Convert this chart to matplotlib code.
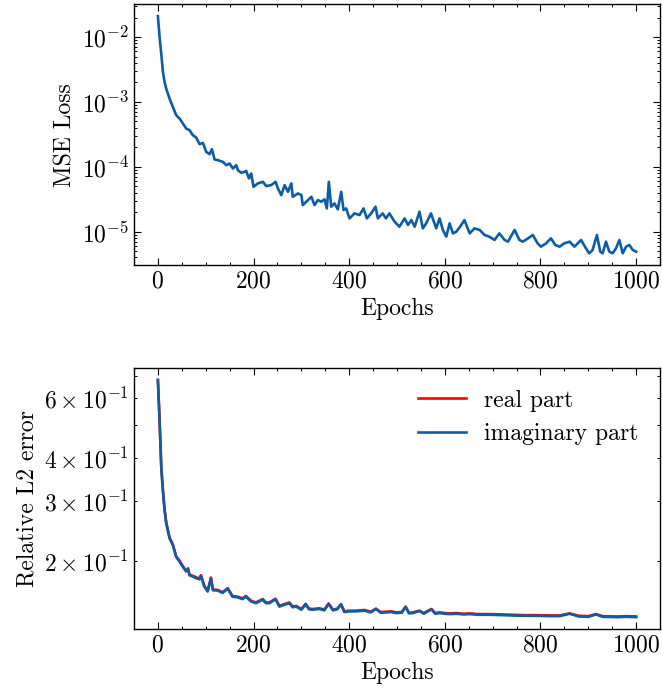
import numpy as np
import matplotlib
matplotlib.use("Agg")
from matplotlib import pyplot as plt
from matplotlib.ticker import AutoMinorLocator

# values (log10 of the plotted quantity)
mse_epochs = [0, 3.5, 7, 10.5, 14, 17.4, 24.4, 31.4, 38.3, 45.3, 52.3, 59.2, 66.2, 73.2,
              80.1, 87.1, 94.1, 101, 108, 113, 118.5, 125.4, 135.9, 142.9, 149.8, 156.8,
              163.8, 167.2, 174.2, 181.2, 184.7, 190.2, 195.1, 200, 209, 219.5, 226.5,
              237, 246, 251, 258, 265, 272, 279, 282, 293, 300, 303, 314, 321, 327.5,
              334.5, 341.5, 348.4, 353.3, 357.5, 362.4, 369.3, 376.3, 383.3, 388.2, 393.7,
              400.7, 411, 421.6, 430, 437, 446, 455, 460, 470, 477, 484, 495, 505, 516,
              523, 530, 537, 547, 554, 561, 571, 582, 589, 596, 603, 610, 617, 624, 632,
              641, 652, 662, 673, 683, 693, 704, 714, 725, 732, 746, 756, 763, 774, 784,
              794, 801, 812, 822, 831, 840, 850, 861, 871, 885, 895, 902, 909, 918, 925,
              930, 937, 944, 951, 958, 965, 972, 979, 986, 993, 1000]
mse_log10 = [-1.677, -2.0, -2.256, -2.538, -2.692, -2.795, -2.949, -3.077, -3.205, -3.256,
             -3.333, -3.410, -3.436, -3.513, -3.549, -3.651, -3.631, -3.769, -3.805, -3.728,
             -3.887, -3.897, -3.923, -3.974, -3.949, -4.026, -3.974, -4.051, -4.092, -4.077,
             -4.062, -4.179, -4.103, -4.308, -4.256, -4.231, -4.297, -4.282, -4.231, -4.333,
             -4.436, -4.282, -4.385, -4.256, -4.462, -4.410, -4.436, -4.590, -4.513, -4.462,
             -4.590, -4.513, -4.538, -4.503, -4.641, -4.231, -4.615, -4.564, -4.656, -4.385,
             -4.667, -4.641, -4.795, -4.718, -4.744, -4.641, -4.795, -4.718, -4.615, -4.795,
             -4.718, -4.795, -4.718, -4.846, -4.923, -4.795, -4.897, -4.821, -4.923, -4.692,
             -4.949, -4.872, -4.718, -4.949, -4.795, -4.974, -5.077, -4.872, -5.026, -5.0,
             -4.923, -4.821, -5.026, -4.949, -4.974, -5.051, -5.077, -5.128, -5.026, -5.128,
             -5.154, -4.974, -5.128, -5.154, -5.103, -5.051, -5.179, -5.231, -5.179, -5.103,
             -5.205, -5.231, -5.179, -5.154, -5.231, -5.128, -5.256, -5.333, -5.282, -5.051,
             -5.308, -5.333, -5.154, -5.308, -5.333, -5.256, -5.128, -5.333, -5.231, -5.205,
             -5.282, -5.308]

l2_epochs = [0, 3.5, 7, 10.4, 13.9, 17.4, 24.4, 31.3, 38, 45, 52, 59, 63, 66, 73, 80, 87,
             90, 97, 104, 111, 115, 125, 135, 146, 156, 167, 177, 184, 195, 205, 219, 226,
             233, 246, 254, 262, 275, 282, 289, 300, 309, 316, 324, 338, 348, 357, 366, 375,
             383, 390, 400, 414, 432, 445, 456, 466, 477, 488, 498, 510, 518, 525, 533, 547,
             556, 572, 580, 589, 600, 610, 624, 640, 652, 670, 693, 720, 740, 763, 790, 820,
             840, 861, 880, 900, 916, 930, 960, 980, 1000]
l2_imag_log10 = [-0.168, -0.286, -0.423, -0.491, -0.549, -0.588, -0.632, -0.652, -0.686,
                 -0.700, -0.715, -0.729, -0.722, -0.740, -0.744, -0.749, -0.752, -0.742,
                 -0.773, -0.788, -0.749, -0.784, -0.785, -0.792, -0.780, -0.803, -0.805,
                 -0.810, -0.803, -0.817, -0.822, -0.812, -0.822, -0.822, -0.8105, -0.832,
                 -0.828, -0.822, -0.834, -0.832, -0.841, -0.826, -0.840, -0.841, -0.839,
                 -0.843, -0.824, -0.843, -0.840, -0.826, -0.848, -0.846, -0.846, -0.844,
                 -0.849, -0.839, -0.850, -0.849, -0.848, -0.851, -0.850, -0.833, -0.852,
                 -0.851, -0.845, -0.853, -0.840, -0.853, -0.851, -0.853, -0.854, -0.853,
                 -0.855, -0.854, -0.856, -0.856, -0.857, -0.858, -0.859, -0.859, -0.860,
                 -0.860, -0.853, -0.861, -0.862, -0.855, -0.862, -0.863, -0.862, -0.863]
l2_real_log10 = [-0.168, -0.284, -0.420, -0.489, -0.547, -0.585, -0.630, -0.650, -0.684,
                 -0.697, -0.713, -0.727, -0.720, -0.738, -0.742, -0.746, -0.750, -0.740,
                 -0.771, -0.786, -0.747, -0.782, -0.783, -0.790, -0.778, -0.801, -0.803,
                 -0.808, -0.801, -0.815, -0.820, -0.810, -0.820, -0.820, -0.809, -0.830,
                 -0.826, -0.820, -0.832, -0.830, -0.839, -0.824, -0.838, -0.839, -0.837,
                 -0.841, -0.823, -0.841, -0.838, -0.825, -0.846, -0.844, -0.844, -0.842,
                 -0.847, -0.838, -0.848, -0.847, -0.846, -0.849, -0.848, -0.832, -0.850,
                 -0.849, -0.844, -0.851, -0.839, -0.851, -0.849, -0.851, -0.852, -0.851,
                 -0.853, -0.852, -0.854, -0.854, -0.855, -0.856, -0.857, -0.857, -0.858,
                 -0.858, -0.852, -0.859, -0.860, -0.854, -0.860, -0.861, -0.860, -0.861]

plt.rcParams.update({
    'font.family': 'serif',
    'font.serif': ['cmr10'],
    'mathtext.fontset': 'cm',
    'axes.formatter.use_mathtext': True,
    'font.size': 17,
    'axes.linewidth': 1.0,
    'xtick.direction': 'in',
    'ytick.direction': 'in',
    'xtick.top': True,
    'ytick.right': True,
    'xtick.major.size': 5,
    'ytick.major.size': 5,
    'xtick.minor.size': 2.5,
    'ytick.minor.size': 2.5,
    'xtick.major.width': 0.8,
    'ytick.major.width': 0.8,
    'xtick.minor.width': 0.7,
    'ytick.minor.width': 0.7,
    'xtick.minor.visible': True,
    'legend.frameon': False,
})

blue = '#0C5DA5'

fig, (ax1, ax2) = plt.subplots(2, 1, figsize=(6.62, 6.92), dpi=100)
fig.subplots_adjust(left=0.2024, right=0.997, top=0.9938, bottom=0.091, hspace=0.395)

ax1.plot(mse_epochs, 10 ** np.array(mse_log10), color=blue, lw=1.9)
ax1.set_yscale('log')
ax1.set_xlabel('Epochs')
ax1.set_ylabel('MSE Loss')
ax1.xaxis.set_minor_locator(AutoMinorLocator())

ax2.plot(l2_epochs, 10 ** np.array(l2_real_log10), color='red', lw=1.9, label='real part')
ax2.plot(l2_epochs, 10 ** np.array(l2_imag_log10), color=blue, lw=1.9, label='imaginary part')
ax2.set_yscale('log')
ax2.set_xlabel('Epochs')
ax2.set_ylabel('Relative L2 error')
ax2.xaxis.set_minor_locator(AutoMinorLocator())
ax2.legend(loc='upper right')

for ax in (ax1, ax2):
    ax.set_xticks([0, 200, 400, 600, 800, 1000])

fig.savefig('out.png', dpi=100)
